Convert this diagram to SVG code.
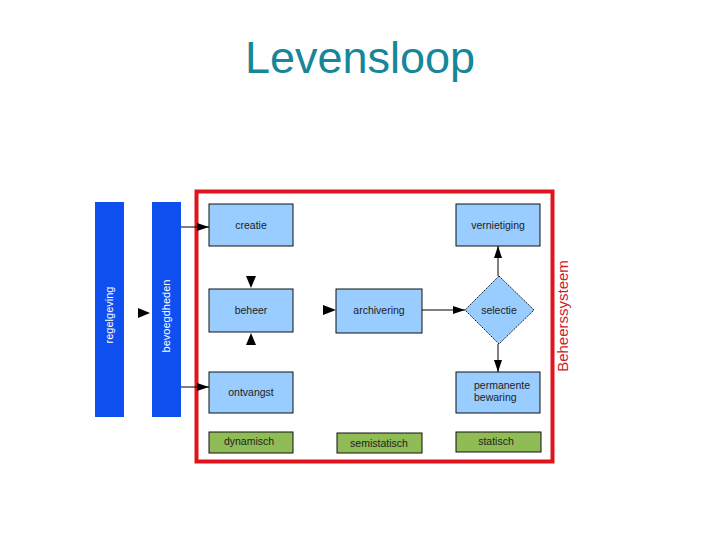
<svg xmlns="http://www.w3.org/2000/svg" width="720" height="540" viewBox="0 0 720 540">
<defs>
<style>
.t{font-family:"Liberation Sans",Arial,sans-serif;font-size:10.5px;fill:#222;text-anchor:middle}
.ts{font-family:"Liberation Sans",Arial,sans-serif;font-size:10.5px;fill:#222;text-anchor:start}
.bar{fill:#0f4ff0}
.bt{font-family:"Liberation Sans",Arial,sans-serif;font-size:11px;fill:#fff;text-anchor:middle}
.box{fill:#99ccff;stroke:#111;stroke-width:1}
.g{fill:#8fbc55;stroke:#111;stroke-width:1}
.ln{stroke:#000;stroke-width:1;fill:none}
.ah{fill:#000}
</style>
<marker id="arr" viewBox="0 0 12 8" refX="12" refY="4" markerWidth="12" markerHeight="8" markerUnits="userSpaceOnUse" orient="auto">
<path d="M0,0 L12,4 L0,8 Z" fill="#000"/>
</marker>
</defs>
<rect width="720" height="540" fill="#fff"/>
<text x="360" y="73" font-family="Liberation Sans,Arial,sans-serif" font-size="45" fill="#16879a" text-anchor="middle">Levensloop</text>

<g id="frame">
<rect x="196.5" y="191.5" width="356" height="270" fill="none" stroke="#e0141c" stroke-width="4"/>
<text transform="translate(568,316) rotate(-90)" font-family="Liberation Sans,Arial,sans-serif" font-size="15" fill="#d0202a" text-anchor="middle">Beheerssysteem</text>
</g>

<g id="regelgeving">
<rect class="bar" x="95" y="202" width="29" height="215"/>
<text class="bt" transform="translate(113,315) rotate(-90)">regelgeving</text>
</g>
<g id="bevoegdheden">
<rect class="bar" x="152" y="202" width="29" height="215"/>
<text class="bt" transform="translate(170,316) rotate(-90)">bevoegdheden</text>
</g>

<g id="creatie"><rect class="box" x="209" y="204" width="84" height="42"/><text class="t" x="251" y="229">creatie</text></g>
<g id="beheer"><rect class="box" x="209" y="289" width="84" height="43"/><text class="t" x="251" y="314">beheer</text></g>
<g id="ontvangst"><rect class="box" x="209" y="372" width="84" height="41"/><text class="t" x="251" y="396">ontvangst</text></g>
<g id="archivering"><rect class="box" x="336" y="289" width="86" height="44"/><text class="t" x="379" y="314">archivering</text></g>
<g id="vernietiging"><rect class="box" x="456" y="204" width="84" height="42"/><text class="t" x="498" y="229">vernietiging</text></g>
<g id="selectie"><path d="M499,276 L534,310 L499,344 L465,310 Z" fill="#99ccff" stroke="#111" stroke-width="1" stroke-dasharray="1.5,1"/><text class="t" x="499" y="314">selectie</text></g>
<g id="permanente-bewaring"><rect class="box" x="456" y="372" width="84" height="41"/><text class="ts" x="474" y="389">permanente</text><text class="ts" x="474" y="401">bewaring</text></g>

<g id="dynamisch"><rect class="g" x="209" y="432" width="84" height="21"/><text class="t" x="249" y="445">dynamisch</text></g>
<g id="semistatisch"><rect class="g" x="337" y="433" width="85" height="20"/><text class="t" x="379" y="447">semistatisch</text></g>
<g id="statisch"><rect class="g" x="456" y="432" width="85" height="20"/><text class="t" x="496" y="445">statisch</text></g>

<g id="connectors">
<line class="ln" x1="181" y1="227" x2="209" y2="227" marker-end="url(#arr)"/>
<line class="ln" x1="181" y1="387" x2="209" y2="387" marker-end="url(#arr)"/>
<path class="ah" d="M138,308 L150,313 L138,318 Z"/>
<path class="ah" d="M246,276 L256,276 L251,288 Z"/>
<path class="ah" d="M246,345 L256,345 L251,333 Z"/>
<path class="ah" d="M323,305 L336,310 L323,315 Z"/>
<line class="ln" x1="422" y1="310" x2="465" y2="310" marker-end="url(#arr)"/>
<line class="ln" x1="498" y1="276" x2="498" y2="246" marker-end="url(#arr)"/>
<line class="ln" x1="498" y1="344" x2="498" y2="372" marker-end="url(#arr)"/>
</g>
</svg>
